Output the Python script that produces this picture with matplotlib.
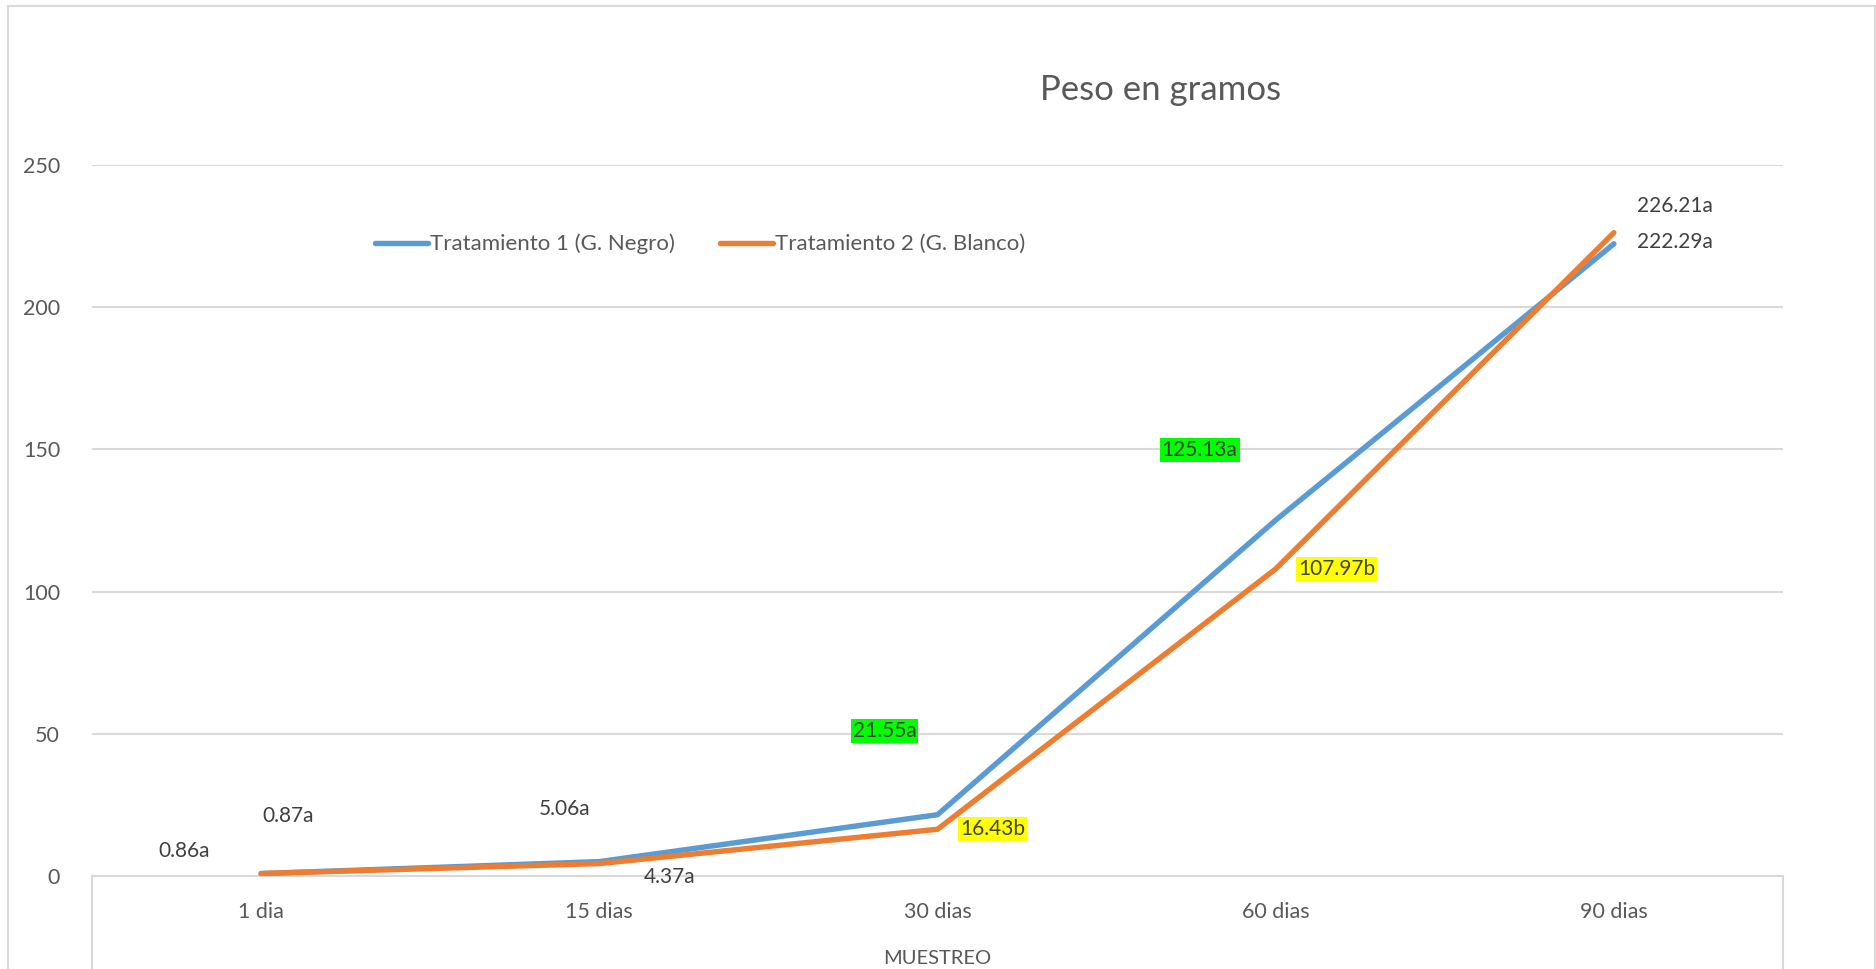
import matplotlib.pyplot as plt
import matplotlib.lines as mlines
import matplotlib.patches as mpatches
import numpy as np

plt.rcParams['font.family'] = ['Lato', 'DejaVu Sans']

# data
categories = ['1 dia', '15 dias', '30 dias', '60 dias', '90 dias']
t1_values = [0.86, 5.06, 21.55, 125.13, 222.29]
t2_values = [0.87, 4.37, 16.43, 107.97, 226.21]
t1_labels = ['0.86a', '5.06a', '21.55a', '125.13a', '222.29a']
t2_labels = ['0.87a', '4.37a', '16.43b', '107.97b', '226.21a']
t1_bg = [None, None, '#00FF00', '#00FF00', None]
t2_bg = [None, None, '#FFFF00', '#FFFF00', None]
yticks = [0, 50, 100, 150, 200, 250]

blue = '#5B9BD5'
orange = '#ED7D31'
txt = '#595959'
grid = '#D9D9D9'

W, H = 1876, 969
fig = plt.figure(figsize=(W / 100, H / 100), dpi=100)
fig.patch.set_facecolor('white')

x0, x1 = 92, 1783
ytop, ybot = 165, 876
ax = fig.add_axes([x0 / W, 1 - ybot / H, (x1 - x0) / W, (ybot - ytop) / H])

x = np.arange(len(categories))
ax.plot(x, t1_values, color=blue, lw=3.9, solid_capstyle='round', solid_joinstyle='round',
        label='Tratamiento 1 (G. Negro)', zorder=3)
ax.plot(x, t2_values, color=orange, lw=3.9, solid_capstyle='round', solid_joinstyle='round',
        label='Tratamiento 2 (G. Blanco)', zorder=4)

ax.set_xlim(-0.5, len(categories) - 0.5)
ax.set_ylim(0, 250)
ax.set_yticks(yticks)
ax.set_yticklabels([str(v) for v in yticks])
ax.set_xticks(x)
ax.set_xticklabels(categories)
ax.tick_params(axis='both', length=0, labelsize=15.5, colors=txt)
ax.tick_params(axis='y', pad=23)
ax.tick_params(axis='x', pad=19)
ax.yaxis.grid(True, color=grid, lw=1.5)
ax.set_axisbelow(True)
for s in ['left', 'right', 'top']:
    ax.spines[s].set_visible(False)
ax.spines['bottom'].set_color(grid)
ax.spines['bottom'].set_linewidth(1.5)
ax.set_xlabel('MUESTREO', fontsize=14.5, color=txt, labelpad=20)

# vertical lines below the axis
for xa in (0, 1):
    ax.add_line(mlines.Line2D([xa, xa], [0, -0.2], transform=ax.transAxes,
                              color=grid, lw=1.5, clip_on=False))

# data labels (offsets in pixels relative to each point)
t1_off = [(-77, 23), (-35, 53), (-53, 84), (-76, 70), (61, 2)]
t2_off = [(27, 58), (70, -13), (55, 0), (61, 0), (61, 27)]
for vals, labs, offs, bgs in [(t1_values, t1_labels, t1_off, t1_bg),
                              (t2_values, t2_labels, t2_off, t2_bg)]:
    for i, (v, lab, off, bg) in enumerate(zip(vals, labs, offs, bgs)):
        bbox = dict(boxstyle='square,pad=0.1', fc=bg, ec='none') if bg else None
        ax.annotate(lab, xy=(i, v), xytext=off, textcoords='offset pixels',
                    ha='center', va='center', fontsize=15, color='#404040',
                    bbox=bbox, zorder=5, annotation_clip=False)

# title
fig.text(1161 / W, 1 - 90 / H, 'Peso en gramos', ha='center', va='center',
         fontsize=25, color=txt)

# legend
ax.legend(loc='center', bbox_to_anchor=(700 / W, 1 - 244 / H), bbox_transform=fig.transFigure,
          ncol=2, frameon=False, fontsize=16, labelcolor=txt, handlelength=2.4,
          handletextpad=0.1, columnspacing=2.0)

# outer chart border
fig.add_artist(mpatches.Rectangle((8 / W, -0.05), (1875 - 8) / W, 1 - 6 / H + 0.05,
                                  transform=fig.transFigure, fill=False, ec=grid, lw=1.5))

fig.savefig('out.png', dpi=100, facecolor='white')
